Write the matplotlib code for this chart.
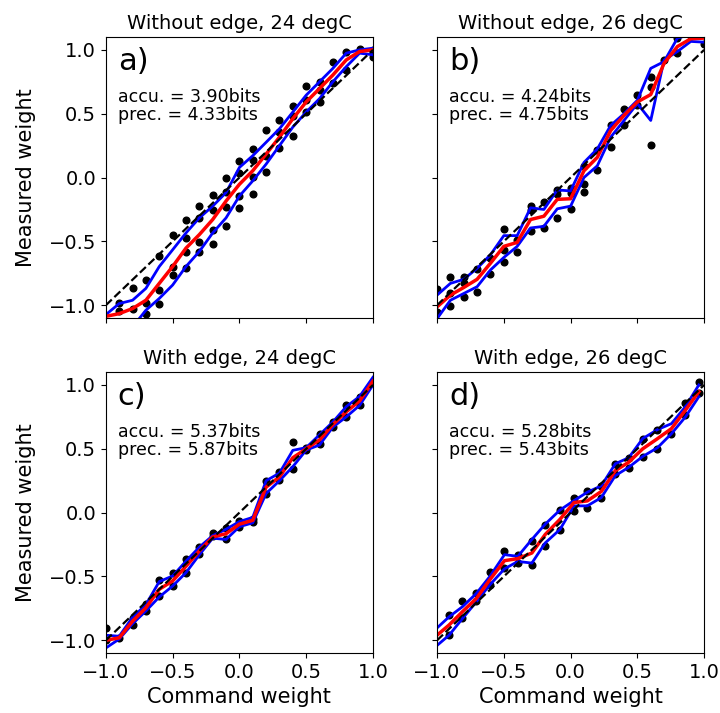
import matplotlib
matplotlib.use("Agg")
import matplotlib.pyplot as plt
import numpy as np

# command weights
x_abc = [round(-1 + 0.1 * k, 2) for k in range(21)]
x_d = [-1.0, -0.91, -0.81, -0.705, -0.605, -0.495, -0.395, -0.29, -0.19, -0.08,
       0.025, 0.125, 0.23, 0.335, 0.435, 0.54, 0.65, 0.755, 0.86, 0.96]

titles = ["Without edge, 24 degC", "Without edge, 26 degC",
          "With edge, 24 degC", "With edge, 26 degC"]
letters = ["a)", "b)", "c)", "d)"]
accu = [3.90, 4.24, 5.37, 5.28]
prec = [4.33, 4.75, 5.87, 5.43]

# measured points, one list per command weight
dots_a = [[], [-0.979, -1.045], [-0.868, -1.03], [-0.803, -0.979, -1.066],
          [-0.618, -0.882, -0.987], [-0.447, -0.70, -0.76],
          [-0.329, -0.474, -0.587, -0.71], [-0.224, -0.316, -0.505, -0.587],
          [-0.139, -0.255, -0.408, -0.518], [0.0, -0.113, -0.232, -0.382],
          [0.132, 0.039, -0.145, -0.237], [0.224, 0.139, 0.008, -0.132],
          [0.374, 0.171, 0.045], [0.453, 0.355, 0.232], [0.558, 0.479, 0.329],
          [0.716, 0.605, 0.513], [0.75, 0.684, 0.592], [0.908, 0.737],
          [0.987, 0.842], [1.008], [0.947, 1.0]]
upper_a = [-1.074, -0.987, -0.961, -0.868, -0.697, -0.566, -0.434, -0.316, -0.224,
           -0.118, 0.079, 0.171, 0.276, 0.382, 0.513, 0.645, 0.75, 0.855, 0.974,
           1.0, 1.013]
mean_a = [-1.087, -1.066, -1.026, -0.961, -0.829, -0.697, -0.553, -0.447, -0.329,
          -0.184, -0.053, 0.053, 0.184, 0.316, 0.461, 0.592, 0.697, 0.803, 0.921,
          0.987, 1.0]
lower_a = [-1.30, -1.25, -1.17, -1.039, -0.947, -0.842, -0.697, -0.579, -0.434,
           -0.316, -0.145, -0.026, 0.105, 0.25, 0.395, 0.513, 0.618, 0.75, 0.868,
           0.974, 0.961]

dots_b = [[-0.874, -1.05], [-0.776, -0.903, -1.008], [-0.776, -0.829, -0.934],
          [-0.716, -0.9], [-0.632, -0.755], [-0.4, -0.566, -0.663],
          [-0.487, -0.587], [-0.224, -0.255, -0.416], [-0.189, -0.395],
          [-0.097, -0.132, -0.316], [-0.079, -0.118, -0.25], [0.092, -0.053, -0.113],
          [0.218, 0.058], [0.413, 0.237], [0.534, 0.408], [0.645, 0.566],
          [0.789, 0.711, 0.255], [0.921], [1.092, 0.974], [1.11], [1.045]]
upper_b = [-0.921, -0.829, -0.797, -0.711, -0.605, -0.455, -0.455, -0.237, -0.25,
           -0.097, -0.105, 0.118, 0.224, 0.408, 0.5, 0.605, 0.855, 0.908, 1.092,
           1.12, 1.11]
mean_b = [-1.013, -0.921, -0.861, -0.797, -0.671, -0.539, -0.508, -0.329, -0.303,
          -0.171, -0.166, 0.053, 0.158, 0.368, 0.487, 0.592, 0.65, 0.895, 1.026,
          1.087, 1.092]
lower_b = [-1.105, -0.961, -0.908, -0.855, -0.724, -0.626, -0.539, -0.395, -0.382,
           -0.245, -0.224, 0.0, 0.092, 0.316, 0.447, 0.579, 0.447, 0.921, 0.987,
           1.066, 1.06]

dots_c = [[-0.903, -0.995], [-0.98], [-0.824, -0.877], [-0.714, -0.772],
          [-0.53, -0.654], [-0.475, -0.575], [-0.365, -0.47], [-0.268, -0.325],
          [-0.163, -0.18], [-0.12, -0.207], [-0.063, -0.11], [-0.05, -0.076],
          [0.247, 0.147], [0.318, 0.252], [0.554, 0.344], [0.488, 0.509],
          [0.619, 0.535], [0.711, 0.672], [0.843, 0.75], [0.908, 0.843], [1.013]]
upper_c = [-0.96, -0.968, -0.82, -0.72, -0.54, -0.496, -0.38, -0.27, -0.18, -0.13,
           -0.07, -0.037, 0.25, 0.31, 0.488, 0.509, 0.61, 0.71, 0.83, 0.91, 1.06]
mean_c = [-1.0, -0.98, -0.85, -0.745, -0.6, -0.535, -0.42, -0.3, -0.19, -0.165,
          -0.09, -0.06, 0.2, 0.28, 0.43, 0.5, 0.57, 0.69, 0.79, 0.875, 1.03]
lower_c = [-1.06, -0.99, -0.87, -0.77, -0.66, -0.575, -0.47, -0.33, -0.2, -0.21,
           -0.11, -0.08, 0.15, 0.25, 0.36, 0.49, 0.53, 0.67, 0.75, 0.84, 1.0]

dots_d = [[], [-0.8, -0.956], [-0.695, -0.826], [-0.63, -0.695], [-0.467, -0.564],
          [-0.297, -0.433], [-0.328, -0.394], [-0.22, -0.41], [-0.1, -0.26],
          [0.021, -0.136], [0.115, 0.016], [0.168, 0.037], [0.205, 0.115],
          [0.383, 0.304], [0.43, 0.352], [0.58, 0.436], [0.65, 0.5], [0.619],
          [0.856, 0.764], [1.02, 0.934]]
upper_d = [-0.903, -0.816, -0.737, -0.632, -0.5, -0.329, -0.342, -0.21, -0.09, 0.02,
           0.094, 0.16, 0.21, 0.383, 0.43, 0.58, 0.65, 0.697, 0.83, 1.0]
mean_d = [-0.96, -0.88, -0.776, -0.671, -0.526, -0.376, -0.36, -0.316, -0.171,
          -0.053, 0.079, 0.092, 0.166, 0.329, 0.395, 0.5, 0.579, 0.658, 0.803, 0.947]
lower_d = [-1.04, -0.96, -0.83, -0.697, -0.566, -0.44, -0.382, -0.395, -0.237,
           -0.132, 0.053, 0.053, 0.118, 0.29, 0.355, 0.44, 0.508, 0.618, 0.75, 0.908]

panels = [
    (x_abc, dots_a, upper_a, mean_a, lower_a),
    (x_abc, dots_b, upper_b, mean_b, lower_b),
    (x_abc, dots_c, upper_c, mean_c, lower_c),
    (x_d, dots_d, upper_d, mean_d, lower_d),
]

fig = plt.figure(figsize=(7.2, 7.13), dpi=100)
rects = [[0.147, 0.554, 0.371, 0.394], [0.607, 0.554, 0.371, 0.394],
         [0.147, 0.084, 0.371, 0.394], [0.607, 0.084, 0.371, 0.394]]

for i, (xs, dots, up, mn, lo) in enumerate(panels):
    ax = fig.add_axes(rects[i])
    px = [x for x, ys in zip(xs, dots) for _ in ys]
    py = [y for ys in dots for y in ys]
    ax.plot(px, py, "o", color="black", markersize=4.8)
    ax.plot(xs, up, color="blue", lw=2)
    ax.plot(xs, lo, color="blue", lw=2)
    ax.plot(xs, mn, color="red", lw=2.5)
    ax.plot([-1, 1], [-1, 1], "k--", lw=1.6)
    ax.set_xlim(-1, 1)
    ax.set_ylim(-1.1, 1.1)
    ax.set_xticks([-1, -0.5, 0, 0.5, 1])
    ax.set_yticks([-1, -0.5, 0, 0.5, 1])
    ax.tick_params(labelsize=14)
    ax.set_title(titles[i], fontsize=14)
    ax.text(0.045, 0.965, letters[i], transform=ax.transAxes, fontsize=22, va="top")
    ax.text(0.045, 0.82, f"accu. = {accu[i]:.2f}bits\nprec. = {prec[i]:.2f}bits",
            transform=ax.transAxes, fontsize=12.5, va="top", linespacing=1.05)
    if i in (0, 2):
        ax.set_ylabel("Measured weight", fontsize=15, labelpad=9)
    else:
        ax.set_yticklabels([])
    if i in (2, 3):
        ax.set_xlabel("Command weight", fontsize=15)
    else:
        ax.set_xticklabels([])

fig.savefig("out.png", dpi=100)
